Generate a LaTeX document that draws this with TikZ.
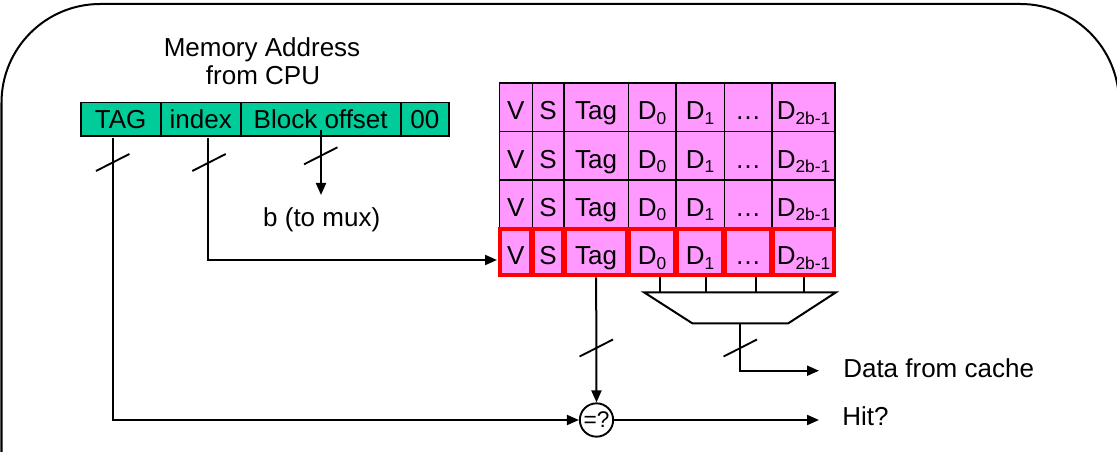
\documentclass[tikz,border=0pt]{standalone}
\usepackage{fontspec}
\setmainfont{Liberation Sans}
\usetikzlibrary{arrows.meta}
\definecolor{regc}{RGB}{0,204,153}
\definecolor{cellc}{RGB}{255,153,255}
\definecolor{redc}{RGB}{255,0,0}
\newcommand\lowsub[1]{\raisebox{-3.6pt}{\fontsize{13}{13}\selectfont #1}}
\begin{document}
\begin{tikzpicture}[x=0.75pt,y=-0.75pt,
  every node/.style={font=\fontsize{19.5}{23}\selectfont},
  frame/.style={line width=1.5pt, rounded corners=74pt},
  conn/.style={line width=1.5pt},
  arr/.style={conn,-{Triangle[length=9pt,width=7.5pt]}},
  slash/.style={line width=1.4pt},
  regcell/.style={draw, line width=1.2pt, fill=regc, inner sep=0pt, minimum height=25pt, text height=14pt, text depth=0pt},
  cachecell/.style={draw, line width=1.2pt, fill=cellc, inner sep=0pt, text height=22pt, text depth=3.6pt},
  selcell/.style={cachecell, draw=redc, line width=2.9pt},
  lbl/.style={anchor=base, inner sep=0pt}
]
\useasboundingbox (0,0) rectangle (1117,452);
% frame
\draw[frame] (1.5,480) -- (1.5,4) -- (1119,4) -- (1119,480);

% title
\node[lbl] (mem) at (262,57) {Memory Address};
\node[lbl] (cpu) at (263,85) {from CPU};

% address register
\node[regcell, minimum width=60pt] (rtag) at (120.7,119.3) {TAG};
\node[regcell, minimum width=60pt] (ridx) at (200.7,119.3) {index};
\node[regcell, minimum width=120pt] (roff) at (320.7,119.3) {Block offset};
\node[regcell, minimum width=36.2pt] (rzz) at (424.85,119.3) {00};

% cache rows
\foreach \row/\ya/\yb in {1/83.3/131.7, 2/131.7/180, 3/180/227.7}{
  \foreach \xa/\xb/\txt/\nm in {499.3/532.3/V/v, 532.3/564/S/s, 564/628.3/Tag/t, 628.3/675.7/{D\lowsub{0}}/da, 675.7/724.3/{D\lowsub{1}}/db, 724.3/772/…/dd, 772/835/{D\lowsub{2b-1}}/dn}{
    \node[cachecell, minimum width={(\xb-\xa)*0.75pt}, minimum height={(\yb-\ya)*0.75pt}] (\nm\row) at ({(\xa+\xb)/2},{(\ya+\yb)/2}) {\txt};
  }
}
\foreach \xa/\xb/\txt/\nm in {499.3/532.3/V/v, 532.3/564/S/s, 564/628.3/Tag/t, 628.3/675.7/{D\lowsub{0}}/da, 675.7/724.3/{D\lowsub{1}}/db, 724.3/772/…/dd, 772/835/{D\lowsub{2b-1}}/dn}{
  \node[selcell, minimum width={(\xb-\xa)*0.75pt-1.6pt}, minimum height={(276.5-227.7)*0.75pt-1.6pt}] (\nm4) at ({(\xa+\xb)/2},{(227.7+276.5)/2}) {\txt};
}

% mux
\coordinate (m1) at (644,292.3);
\coordinate (m2) at (836,292.3);
\coordinate (m3) at (788.3,323.3);
\coordinate (m4) at (692.3,323.3);
\draw[conn, line join=miter] (m1) -- (m2) -- (m3) -- (m4) -- cycle;
\foreach \x/\n in {660/a, 706/b, 756/c, 804/d}{
  \coordinate (mi\n) at (\x,292.3);
}
\draw[line width=1.1pt] (mia |- da4.south) -- (mia);
\draw[line width=1.1pt] (mib |- db4.south) -- (mib);
\draw[line width=1.1pt] (mic |- dd4.south) -- (mic);
\draw[line width=1.1pt] (mid |- dn4.south) -- (mid);

% comparator
\node[draw, circle, line width=1.4pt, minimum size=25pt, inner sep=0pt, font=\fontsize{17}{17}\selectfont] (cmp) at (596.5,420) {=?};

% labels
\node[lbl] (bmux) at (321.7,227) {b (to mux)};
\node[lbl, anchor=base west] (data) at (843,377) {Data from cache};
\node[lbl, anchor=base west] (hit) at (842,425) {Hit?};

% connectors
\coordinate (tagout) at (112.7,138.5);
\coordinate (idxout) at (208.3,138.5);
\coordinate (rowin) at (497,260);
\coordinate (boffout) at (321,130);
\coordinate (btip) at (321,195);
\coordinate (mo) at (740,323.3);
\coordinate (dataend) at (819,370.7);
\coordinate (hitend) at (819,420);

\draw[arr] (tagout) |- (cmp.west);
\draw[arr] (idxout) |- (rowin);
\draw[arr] (boffout) -- (btip);
\draw[arr] (t4.south) -- (cmp.north);
\draw[arr] (cmp.east) -- (hitend);
\draw[arr] (mo) |- (dataend);

% bus slashes
\draw[slash] (112.7,162.5) ++(-16.7,8.5) -- ++(33.4,-17);
\draw[slash] (209,162.5) ++(-16.7,8.5) -- ++(33.4,-17);
\draw[slash] (320.8,155.8) ++(-16.7,8.5) -- ++(33.4,-17);
\draw[slash] (596.3,348) ++(-16.7,8.5) -- ++(33.4,-17);
\draw[slash] (740.3,348) ++(-16.7,8.5) -- ++(33.4,-17);
\end{tikzpicture}
\end{document}
